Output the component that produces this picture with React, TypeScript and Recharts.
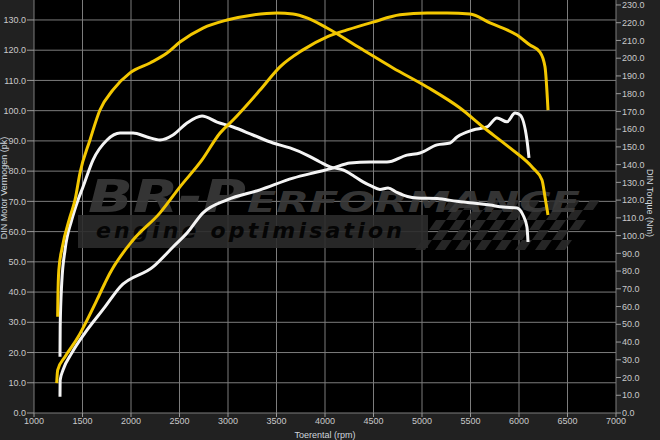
import { LineChart, Line, XAxis, YAxis, CartesianGrid, Customized } from 'recharts';

// rpm ticks and axis ticks
const rpmTicks = [1000, 1500, 2000, 2500, 3000, 3500, 4000, 4500, 5000, 5500, 6000, 6500, 7000];
const pkTicks = [0, 10, 20, 30, 40, 50, 60, 70, 80, 90, 100, 110, 120, 130];
const nmTicks = [0, 10, 20, 30, 40, 50, 60, 70, 80, 90, 100, 110, 120, 130, 140, 150, 160, 170, 180, 190, 200, 210, 220, 230];

// getuned vermogen (pk) - geel
const tunedPowerRpm = [1234, 1244, 1320, 1454, 1495, 1649, 1732, 1784, 2021, 2299, 2505, 2732, 2918, 3052, 3330, 3536, 3773, 4021, 4227, 4495, 4773, 5052, 5258, 5495, 5701, 5979, 6113, 6216, 6268, 6299];
const tunedPowerPk = [9.9, 14.2, 18.6, 25.1, 27.5, 37.4, 43.0, 46.3, 57.2, 66.2, 74.8, 83.7, 92.6, 96.9, 106.8, 114.5, 120.1, 124.4, 126.7, 129.3, 131.7, 132.3, 132.3, 132.0, 129.0, 125.0, 121.7, 119.4, 114.5, 100.2];

// getuned koppel (Nm) - geel
const tunedTorqueRpm = [1244, 1246, 1256, 1290, 1371, 1423, 1474, 1577, 1680, 1814, 1990, 2196, 2371, 2505, 2742, 2990, 3258, 3505, 3670, 3814, 4021, 4361, 4701, 5052, 5392, 5629, 5907, 6144, 6237, 6268, 6299];
const tunedTorqueNm = [54.3, 63.7, 80.6, 93.0, 110.5, 120.1, 135.3, 153.9, 170.8, 182.1, 191.7, 197.3, 202.9, 209.1, 217.0, 221.5, 224.4, 225.5, 224.9, 222.7, 217.0, 205.7, 194.5, 183.8, 171.9, 161.2, 149.4, 138.1, 131.3, 121.8, 111.6];

// origineel vermogen (pk) - wit
const stockPowerRpm = [1268, 1270, 1299, 1389, 1526, 1732, 1887, 2227, 2433, 2577, 2742, 2990, 3330, 3670, 3918, 4082, 4258, 4464, 4639, 4845, 4979, 5155, 5289, 5361, 5526, 5670, 5773, 5876, 5959, 6010, 6082, 6103];
const stockPowerPk = [5.4, 10.9, 14.2, 19.8, 26.5, 35.1, 41.7, 48.3, 54.9, 59.5, 66.2, 70.5, 73.8, 77.7, 79.7, 81.0, 82.7, 83.0, 83.0, 85.3, 86.0, 88.7, 89.3, 91.3, 93.6, 94.6, 97.6, 96.3, 99.2, 98.6, 90.3, 84.4];

// origineel koppel (Nm) - wit
const stockTorqueRpm = [1268, 1270, 1286, 1320, 1389, 1454, 1505, 1608, 1753, 1887, 2021, 2165, 2299, 2433, 2577, 2732, 2887, 3052, 3258, 3464, 3639, 3814, 3948, 4052, 4186, 4300, 4392, 4475, 4567, 4650, 4742, 4850, 4948, 5155, 5361, 5526, 5701, 5835, 5979, 6041, 6082, 6093];
const stockTorqueNm = [31.7, 48.6, 73.3, 91.9, 108.8, 120.1, 127.4, 142.6, 153.9, 157.8, 157.8, 155.6, 153.9, 156.7, 163.5, 167.4, 164.0, 161.2, 156.7, 152.2, 149.4, 145.4, 141.5, 138.7, 137.0, 133.5, 130.3, 128.0, 126.0, 126.8, 124.3, 122.0, 121.2, 120.9, 119.3, 118.4, 117.2, 116.1, 115.6, 111.6, 104.8, 96.4];

const toPoints = (rpm: number[], vals: number[]) => rpm.map((r, i) => ({ rpm: r, v: vals[i] }));

const YELLOW = '#f3c700';
const WHITE = '#f4f4f4';
const LABEL = '#cfd6dd';
const FONT = '"Liberation Sans", Arial, sans-serif';

const tickStyle = { fill: '#c9c9c9', fontSize: 9, fontFamily: FONT };

function Watermark() {
  const flag = [];
  for (let r = 0; r < 5; r++) {
    for (let c = 0; c < 15; c++) {
      if ((r + c) % 2 === 0) {
        flag.push(<rect key={`${r}-${c}`} x={c * 10} y={r * 10} width={10} height={10} />);
      }
    }
  }
  return (
    <g style={{ pointerEvents: 'none' }}>
      <rect x={78} y={215} width={350} height={33} fill="#2b2b2b" opacity={0.9} />
      <g transform="translate(450,200) skewX(-35)" fill="#2b2b2b" opacity={0.9}>
        {flag}
      </g>
      <text x={88} y={212} fontSize={44} fontWeight="bold" fontStyle="italic" fontFamily='"DejaVu Sans", sans-serif'
        fill="#3a3a3a" textLength={158} lengthAdjust="spacingAndGlyphs" opacity={0.9}>BR-P</text>
      <text x={247} y={212} fontSize={28} fontWeight="bold" fontStyle="italic" fontFamily='"DejaVu Sans", sans-serif'
        fill="#3a3a3a" textLength={333} lengthAdjust="spacingAndGlyphs" opacity={0.9}>ERFORMANCE</text>
      <text x={96} y={238} fontSize={22} fontWeight="bold" fontStyle="italic" fontFamily='"DejaVu Sans", sans-serif'
        fill="#050505" textLength={306} lengthAdjust="spacing">engine  optimisation</text>
    </g>
  );
}

function AxisTitles() {
  return (
    <g fontFamily={FONT} fontSize={9} fill={LABEL}>
      <text x={7} y={188} textAnchor="middle" transform="rotate(-90 7 188)">DIN Motor Vermogen (pk)</text>
      <text x={647} y={203} textAnchor="middle" transform="rotate(90 647 203)">DIN Torque (Nm)</text>
      <text x={325} y={438} textAnchor="middle">Toerental (rpm)</text>
    </g>
  );
}

export default function App() {
  return (
    <div style={{ width: 660, height: 440, background: '#212121', position: 'absolute', left: 0, top: 0 }}>
      <style>{'body{margin:0}'}</style>
      <LineChart width={660} height={440} margin={{ top: 0, right: 0, bottom: 0, left: 0 }}>
        <CartesianGrid yAxisId="pk" fill="#000" stroke="#7c7c7c" horizontalValues={pkTicks} verticalValues={rpmTicks} />
        <Customized component={Watermark} />
        <XAxis
          type="number"
          dataKey="rpm"
          domain={[1000, 7000]}
          ticks={rpmTicks}
          allowDataOverflow
          height={27}
          axisLine={false}
          tickSize={4}
          tickMargin={1}
          tickLine={{ stroke: '#9a9a9a' }}
          tick={tickStyle}
        />
        <YAxis
          yAxisId="pk"
          domain={[0, 136.6]}
          ticks={pkTicks}
          allowDataOverflow
          width={34}
          axisLine={false}
          tickSize={7}
          tickMargin={1}
          tickLine={{ stroke: '#9a9a9a' }}
          tick={tickStyle}
          tickFormatter={(v: number) => v.toFixed(1)}
        />
        <YAxis
          yAxisId="nm"
          orientation="right"
          domain={[0, 232.8]}
          ticks={nmTicks}
          allowDataOverflow
          width={44}
          axisLine={false}
          tickSize={5}
          tickMargin={1}
          tickLine={{ stroke: '#9a9a9a' }}
          tick={tickStyle}
          tickFormatter={(v: number) => v.toFixed(1)}
        />
        <Line yAxisId="pk" data={toPoints(stockPowerRpm, stockPowerPk)} dataKey="v" type="monotone" stroke={WHITE} strokeWidth={3} dot={false} isAnimationActive={false} />
        <Line yAxisId="nm" data={toPoints(stockTorqueRpm, stockTorqueNm)} dataKey="v" type="monotone" stroke={WHITE} strokeWidth={3} dot={false} isAnimationActive={false} />
        <Line yAxisId="pk" data={toPoints(tunedPowerRpm, tunedPowerPk)} dataKey="v" type="monotone" stroke={YELLOW} strokeWidth={3} dot={false} isAnimationActive={false} />
        <Line yAxisId="nm" data={toPoints(tunedTorqueRpm, tunedTorqueNm)} dataKey="v" type="monotone" stroke={YELLOW} strokeWidth={3} dot={false} isAnimationActive={false} />
        <Customized component={AxisTitles} />
      </LineChart>
    </div>
  );
}
